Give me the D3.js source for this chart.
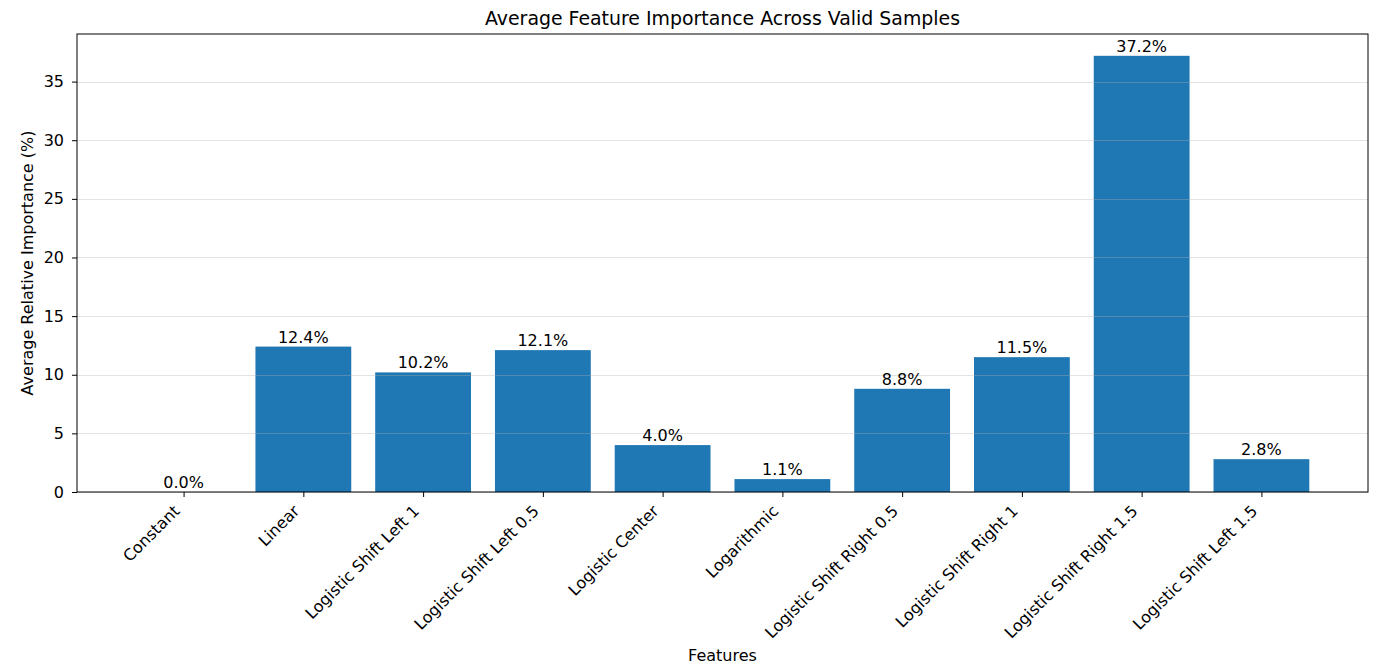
<!DOCTYPE html>
<html>
<head>
<meta charset="utf-8">
<script src="https://cdn.jsdelivr.net/npm/d3@7"></script>
<style>
  body { margin: 0; background: #fff; }
  text { font-family: 'DejaVu Sans', sans-serif; fill: #000; }
</style>
</head>
<body>
<div id="chart"></div>
<script>
// data
const features = [
  'Constant', 'Linear', 'Logistic Shift Left 1', 'Logistic Shift Left 0.5',
  'Logistic Center', 'Logarithmic', 'Logistic Shift Right 0.5',
  'Logistic Shift Right 1', 'Logistic Shift Right 1.5', 'Logistic Shift Left 1.5'
]
const importance = [0.0, 12.4, 10.2, 12.1, 4.0, 1.1, 8.8, 11.5, 37.2, 2.8]
const yTicks = [0, 5, 10, 15, 20, 25, 30, 35]

const W = 1378
const H = 665
const margin = { top: 34, left: 77, right: 10, bottom: 173 }
const width = W - margin.left - margin.right
const height = H - margin.top - margin.bottom

const tickFont = 16
const titleFont = 18.9

const svg = d3
  .select('#chart')
  .append('svg')
  .attr('width', W)
  .attr('height', H)

const g = svg.append('g')
  .attr('transform', 'translate(' + margin.left + ',' + margin.top + ')')

// matplotlib-style limits: bars of width 0.8, 5% margins
const idx = d3.range(features.length)
const lo = -0.4, hi = features.length - 1 + 0.4
const pad = (hi - lo) * 0.05
const xScale = d3.scaleLinear().domain([lo - pad, hi + pad]).range([0, width])
const yScale = d3.scaleLinear().domain([0, d3.max(importance) * 1.05]).range([height, 0])

// bars
g.selectAll('.bar')
  .data(idx)
  .enter()
  .append('rect')
  .attr('class', 'bar')
  .attr('x', i => xScale(i - 0.4))
  .attr('width', i => xScale(i + 0.4) - xScale(i - 0.4))
  .attr('y', i => yScale(importance[i]))
  .attr('height', i => yScale(0) - yScale(importance[i]))
  .attr('fill', '#1f77b4')

// grid (over bars, faint)
g.selectAll('.grid')
  .data(yTicks)
  .enter()
  .append('line')
  .attr('x1', 0)
  .attr('x2', width)
  .attr('y1', d => Math.round(yScale(d)) + 0.5)
  .attr('y2', d => Math.round(yScale(d)) + 0.5)
  .attr('stroke', '#b0b0b0')
  .attr('stroke-opacity', 0.35)
  .attr('stroke-width', 1)

// value labels
g.selectAll('.val')
  .data(idx)
  .enter()
  .append('text')
  .attr('x', i => xScale(i))
  .attr('y', i => yScale(importance[i]) - 4)
  .attr('text-anchor', 'middle')
  .attr('font-size', tickFont)
  .text(i => importance[i].toFixed(1) + '%')

// frame
g.append('rect')
  .attr('width', width)
  .attr('height', height)
  .attr('fill', 'none')
  .attr('stroke', '#000')
  .attr('stroke-width', 1)

// y axis
const yAxis = d3.axisLeft(yScale).tickValues(yTicks).tickSize(5).tickPadding(8)
g.append('g')
  .attr('class', 'y-axis')
  .call(yAxis)
  .call(s => s.select('.domain').remove())
  .call(s => s.selectAll('text').attr('font-size', tickFont).style('font-family', 'DejaVu Sans'))

// x axis
const xAxis = d3.axisBottom(xScale).tickValues(idx).tickSize(5).tickFormat(() => '')
g.append('g')
  .attr('class', 'x-axis')
  .attr('transform', 'translate(0,' + height + ')')
  .call(xAxis)
  .call(s => s.select('.domain').remove())

g.selectAll('.xlabel')
  .data(idx)
  .enter()
  .append('text')
  .attr('transform', i => 'translate(' + (xScale(i) - 3) + ',' + (height + 20) + ') rotate(-45)')
  .attr('text-anchor', 'end')
  .attr('font-size', tickFont)
  .text(i => features[i])

// titles
svg.append('text')
  .attr('x', margin.left + width / 2)
  .attr('y', 25)
  .attr('text-anchor', 'middle')
  .attr('font-size', titleFont)
  .text('Average Feature Importance Across Valid Samples')

svg.append('text')
  .attr('x', margin.left + width / 2)
  .attr('y', 661)
  .attr('text-anchor', 'middle')
  .attr('font-size', tickFont)
  .text('Features')

svg.append('text')
  .attr('transform', 'translate(33,' + (margin.top + height / 2) + ') rotate(-90)')
  .attr('text-anchor', 'middle')
  .attr('font-size', tickFont)
  .text('Average Relative Importance (%)')
</script>
</body>
</html>
